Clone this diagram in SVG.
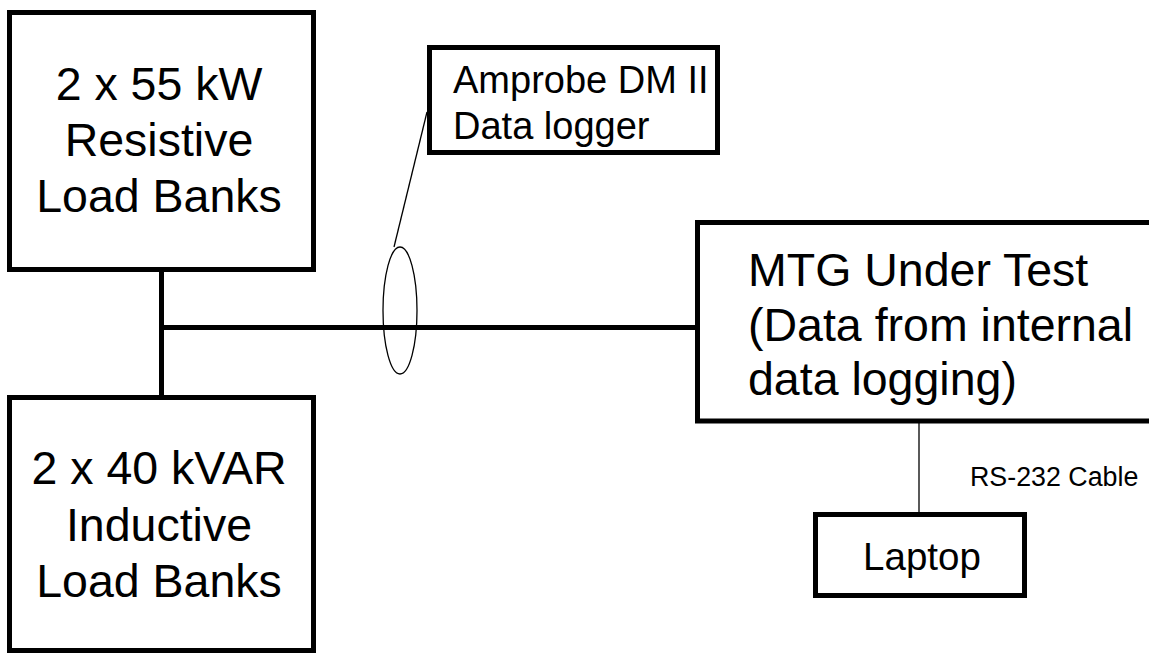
<svg xmlns="http://www.w3.org/2000/svg" width="1149" height="654" viewBox="0 0 1149 654">
<style>
.box{fill:#fff;stroke:#000;stroke-width:5}
.t{font-family:"Liberation Sans",Arial,sans-serif;fill:#000}
.big{font-size:46.5px}
.mid{font-size:38px}
.small{font-size:26.8px}
.c{text-anchor:middle}
.thick{stroke:#000;stroke-width:5;fill:none}
.thin{stroke:#000;stroke-width:1.3;fill:none}
</style>
<rect width="1149" height="654" fill="#fff"/>
<g id="connectors">
<line class="thick" x1="161.5" y1="269.5" x2="161.5" y2="397.5"/>
<line class="thick" x1="161.5" y1="327.5" x2="697.5" y2="327.5"/>
<line class="thin" x1="919" y1="423" x2="919" y2="513"/>
<line class="thin" x1="427" y1="112" x2="394" y2="247"/>
<ellipse class="thin" cx="400" cy="310.5" rx="17" ry="63.5"/>
<text class="t small" x="970" y="486">RS-232 Cable</text>
</g>
<g id="resistive">
<rect class="box" x="9.5" y="12.5" width="304" height="257"/>
<text class="t big c" x="159" y="100">2 x 55 kW</text>
<text class="t big c" x="159" y="156">Resistive</text>
<text class="t big c" x="159" y="212">Load Banks</text>
</g>
<g id="inductive">
<rect class="box" x="9.5" y="397.5" width="304" height="253"/>
<text class="t big c" x="159" y="484">2 x 40 kVAR</text>
<text class="t big c" x="159" y="541">Inductive</text>
<text class="t big c" x="159" y="597">Load Banks</text>
</g>
<g id="amprobe">
<rect class="box" x="429.5" y="47.5" width="288" height="105"/>
<text class="t mid" x="453" y="93">Amprobe DM II</text>
<text class="t mid" x="453" y="139">Data logger</text>
</g>
<g id="mtg">
<rect class="box" x="697.5" y="222.5" width="470" height="198.5"/>
<text class="t big" x="748" y="286">MTG Under Test</text>
<text class="t big" x="748" y="341">(Data from internal</text>
<text class="t big" x="748" y="395">data logging)</text>
</g>
<g id="laptop">
<rect class="box" x="815.5" y="514.5" width="209" height="81"/>
<text class="t c" style="font-size:38.5px" x="922" y="570">Laptop</text>
</g>
</svg>
